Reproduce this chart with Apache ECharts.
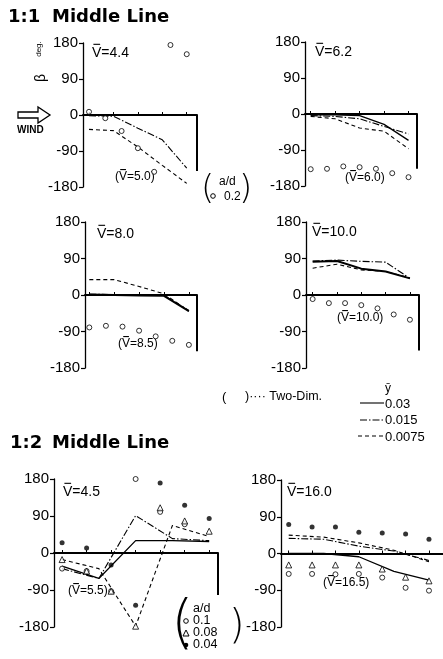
<!DOCTYPE html>
<html>
<head>
<meta charset="utf-8">
<script src="https://cdn.jsdelivr.net/npm/echarts@6/dist/echarts.min.js"></script>
<style>
html, body { margin: 0; padding: 0; background: #fff; }
#chart { width: 443px; height: 659px; }
</style>
</head>
<body>
<div id="chart"></div>
<script>
// measuring points along the middle line, and the points where the lines bend
const pos = [0, 1, 2, 3, 4, 5, 6];
const linePos = [0, 1.5, 3, 4.5, 6];
const topTicks = [0, 1.5, 3, 4.5, 6];
const bottomTicks = [0, 1, 2, 3, 4, 5, 6];
const yTicks = [-180, -90, 0, 90, 180];

// 1:1 Middle Line, V=4.4 (two-dim. V=5.0)
const p1Circle = [8, -8, -40, -83, -142, 175, 152];
const p1DashDot = [-2, -3, -33, -62, -133];
const p1Dashed = [-36, -39, -80, -126, -171];

// 1:1, V=6.2 (two-dim. V=6.0)
const p2Circle = [-138, -137, -131, -133, -137, -148, -158];
const p2Solid = [-2, -2, -4, -26, -66];
const p2DashDot = [-4, -6, -12, -31, -50];
const p2Dashed = [-6, -12, -35, -43, -87];

// 1:1, V=8.0 (two-dim. V=8.5)
const p3Circle = [-80, -76, -78, -88, -102, -113, -123];
const p3Solid = [1, 0, -1, -2, -40];
const p3DashDot = [2, 1, 0, -1, -38];
const p3Dashed = [38, 38, 21, 3, -40];

// 1:1, V=10.0 (two-dim. V=10.0)
const p4Circle = [-10, -20, -20, -25, -33, -48, -61];
const p4Solid = [82, 84, 65, 58, 41];
const p4DashDot = [84, 86, 83, 81, 41];
const p4Dashed = [66, 76, 62, 58, 42];

// 1:2 Middle Line, V=4.5 (two-dim. V=5.5)
const p5Circle = [-38, -44, -93, 180, 100, 70, null];
const p5Triangle = [-16, -44, -93, -178, 110, 78, 53];
const p5Filled = [25, 12, -29, -127, 170, 116, 84];
const p5Solid = [-32, -62, 30, 30, 28];
const p5DashDot = [-38, -62, 91, 35, 30];
const p5Dashed = [-16, -38, -178, 67, 40];

// 1:2, V=16.0 (two-dim. V=16.5)
const p6Circle = [-50, -50, -51, -50, -59, -84, -91];
const p6Triangle = [-28, -28, -28, -28, -38, -58, -67];
const p6Filled = [71, 65, 65, 52, 50, 48, 35];
const p6Solid = [0, 0, -8, -44, -65];
const p6DashDot = [37, 35, 18, 6, -17];
const p6Dashed = [45, 40, 26, 8, -20];

// depth of the wall drawn at the right end of each panel
const wallDepth = [-140, -137, -139, -137, -102, null];

const boxes = [
  { left: 83, top: 43, width: 114, height: 144, min: -0.37, max: 6.63, ticks: topTicks },
  { left: 305, top: 42, width: 112, height: 144, min: -0.35, max: 6.52, ticks: topTicks },
  { left: 85, top: 222, width: 112, height: 146, min: -0.26, max: 6.49, ticks: topTicks },
  { left: 306, top: 222, width: 113, height: 146, min: -0.41, max: 6.56, ticks: topTicks },
  { left: 54, top: 479, width: 164, height: 148, min: -0.33, max: 6.36, ticks: bottomTicks },
  { left: 281, top: 480, width: 170, height: 147, min: -0.33, max: 6.6, ticks: bottomTicks }
];

const FONT = 'Liberation Sans';
const DASHDOT = [7, 2, 1.5, 2];
const DASHED = [4, 3];

const grids = [], xAxes = [], yAxes = [], series = [];
boxes.forEach((b, i) => {
  grids.push({ left: b.left, top: b.top, width: b.width, height: b.height });
  xAxes.push({
    gridIndex: i, type: 'value', min: b.min, max: b.max,
    axisLine: { show: true, onZero: true, lineStyle: { color: '#000', width: 2 } },
    axisTick: { show: true, inside: true, length: 3, customValues: b.ticks, lineStyle: { color: '#000', width: 1 } },
    axisLabel: { show: false },
    splitLine: { show: false }
  });
  yAxes.push({
    gridIndex: i, type: 'value', min: -180, max: 180,
    axisLine: { show: true, onZero: false, lineStyle: { color: '#000', width: 1.3 } },
    axisTick: { show: true, length: 4, customValues: yTicks, lineStyle: { color: '#000', width: 1.2 } },
    axisLabel: { customValues: yTicks, color: '#000', fontSize: 15, fontFamily: FONT, margin: 5 },
    splitLine: { show: false }
  });
});

function line(i, vals, dash, width) {
  series.push({
    type: 'line', xAxisIndex: i, yAxisIndex: i, symbol: 'none', silent: true,
    data: linePos.map((x, k) => [x, vals[k]]),
    lineStyle: { color: '#000', width: width || 1.1, type: dash }
  });
}
function dots(i, vals, symbol, filled) {
  series.push({
    type: 'scatter', xAxisIndex: i, yAxisIndex: i, symbol: symbol,
    symbolSize: symbol === 'triangle' ? 6 : 5, z: 3,
    data: pos.map((x, k) => [x, vals[k]]).filter(d => d[1] !== null),
    itemStyle: filled ? { color: '#000' } : { color: '#fff', borderColor: '#000', borderWidth: 1 }
  });
}
function wall(i) {
  if (wallDepth[i] === null) return;
  const m = boxes[i].max;
  series.push({
    type: 'line', xAxisIndex: i, yAxisIndex: i, symbol: 'none', silent: true,
    data: [[m, 0], [m, wallDepth[i]]],
    lineStyle: { color: '#000', width: 2 }
  });
}

line(0, p1DashDot, DASHDOT); line(0, p1Dashed, DASHED); dots(0, p1Circle, 'circle', false); wall(0);
line(1, p2Solid, 'solid', 1.3); line(1, p2DashDot, DASHDOT); line(1, p2Dashed, DASHED); dots(1, p2Circle, 'circle', false); wall(1);
line(2, p3Solid, 'solid', 2); line(2, p3DashDot, DASHDOT); line(2, p3Dashed, DASHED); dots(2, p3Circle, 'circle', false); wall(2);
line(3, p4Solid, 'solid', 2); line(3, p4DashDot, DASHDOT); line(3, p4Dashed, DASHED); dots(3, p4Circle, 'circle', false); wall(3);
line(4, p5Solid, 'solid', 1.3); line(4, p5DashDot, DASHDOT); line(4, p5Dashed, DASHED);
dots(4, p5Circle, 'circle', false); dots(4, p5Triangle, 'triangle', false); dots(4, p5Filled, 'circle', true); wall(4);
line(5, p6Solid, 'solid', 1.3); line(5, p6DashDot, DASHDOT); line(5, p6Dashed, DASHED);
dots(5, p6Circle, 'circle', false); dots(5, p6Triangle, 'triangle', false); dots(5, p6Filled, 'circle', true);

function txt(x, y, s, size, opt) {
  return Object.assign({
    type: 'text', x: x, y: y,
    style: { text: s, fill: '#000', font: (opt && opt.weight || 'normal') + ' ' + size + 'px "' + (opt && opt.family || FONT) + '"',
             textVerticalAlign: 'middle', textAlign: (opt && opt.align) || 'left' }
  }, opt && opt.rotation ? { rotation: opt.rotation } : {});
}
function seg(x1, x2, y, dash) {
  return { type: 'line', shape: { x1: x1, y1: y, x2: x2, y2: y }, style: { stroke: '#000', lineWidth: 1.1, lineDash: dash } };
}
// "V" with an overbar: the label text plus a short stroke above the V
const graphics = [];
function vbar(x, y, s, size, paren) {
  graphics.push(txt(x, y, s, size));
  const x0 = x + (paren ? 0.333 * size : 0);
  graphics.push({ type: 'line', shape: { x1: x0 + 0.1 * size, y1: y - 0.62 * size, x2: x0 + 0.58 * size, y2: y - 0.62 * size },
                  style: { stroke: '#000', lineWidth: 1.1 } });
}

graphics.push(
  txt(8, 17, '1:1', 18, { weight: 'bold', family: 'DejaVu Sans' }),
  txt(52, 17, 'Middle Line', 18, { weight: 'bold', family: 'DejaVu Sans' }),
  txt(10, 443, '1:2', 18, { weight: 'bold', family: 'DejaVu Sans' }),
  txt(52, 443, 'Middle Line', 18, { weight: 'bold', family: 'DejaVu Sans' }),
  txt(39, 49, 'deg.', 8, { rotation: Math.PI / 2, align: 'center' }),
  txt(41, 78, '\u03b2', 14, { rotation: Math.PI / 2, align: 'center' }),
  { type: 'polygon', shape: { points: [[18, 112], [38, 112], [38, 107], [50, 115], [38, 123], [38, 118], [18, 118]] },
    style: { fill: '#fff', stroke: '#000', lineWidth: 1.3 } },
  txt(17, 130, 'WIND', 10, { weight: 'bold' }),
  // a/d legend of the 1:1 panels
  txt(201, 190, '(', 34, { family: 'DejaVu Sans', weight: 'lighter' }),
  txt(219, 182, 'a/d', 12),
  { type: 'circle', shape: { cx: 213, cy: 196, r: 2.3 }, style: { fill: '#fff', stroke: '#000', lineWidth: 1 } },
  txt(224, 197, '0.2', 12),
  txt(239, 190, ')', 34, { family: 'DejaVu Sans', weight: 'lighter' }),
  // line legend
  txt(222, 397, '(', 13),
  txt(245, 397, ')\u00b7\u00b7\u00b7\u00b7 Two-Dim.', 12.5),
  txt(388, 389, '\u0233', 12, { align: 'center' }),
  seg(360, 384, 403, null), txt(385, 404, '0.03', 13),
  seg(360, 384, 420, DASHDOT), txt(385, 420, '0.015', 13),
  seg(358, 384, 436, DASHED), txt(385, 437, '0.0075', 13),
  // a/d legend of the 1:2 panels
  txt(171, 627, '(', 58, { family: 'DejaVu Sans', weight: 'lighter' }),
  txt(193, 609, 'a/d', 12.5),
  { type: 'circle', shape: { cx: 186, cy: 621, r: 2.3 }, style: { fill: '#fff', stroke: '#000', lineWidth: 1 } },
  txt(193, 621, '0.1', 12.5),
  { type: 'polygon', shape: { points: [[186, 630], [189, 636], [183, 636]] }, style: { fill: '#fff', stroke: '#000', lineWidth: 1 } },
  txt(193, 633, '0.08', 12.5),
  { type: 'circle', shape: { cx: 186, cy: 645, r: 2.3 }, style: { fill: '#000' } },
  txt(193, 645, '0.04', 12.5),
  txt(229, 628, ')', 40, { family: 'DejaVu Sans', weight: 'lighter' })
);

vbar(92, 53, 'V=4.4', 14);
vbar(315, 52, 'V=6.2', 14);
vbar(97, 234, 'V=8.0', 14);
vbar(312, 232, 'V=10.0', 14);
vbar(63, 492, 'V=4.5', 14);
vbar(287, 492, 'V=16.0', 14);
vbar(115, 177, '(V=5.0)', 12, true);
vbar(345, 178, '(V=6.0)', 12, true);
vbar(118, 344, '(V=8.5)', 12, true);
vbar(337, 318, '(V=10.0)', 12, true);
vbar(68, 591, '(V=5.5)', 12, true);
vbar(323, 583, '(V=16.5)', 12, true);

const chart = echarts.init(document.getElementById('chart'), null, { renderer: 'canvas' });
chart.setOption({
  animation: false,
  backgroundColor: '#fff',
  grid: grids,
  xAxis: xAxes,
  yAxis: yAxes,
  series: series,
  graphic: graphics
});
</script>
</body>
</html>
